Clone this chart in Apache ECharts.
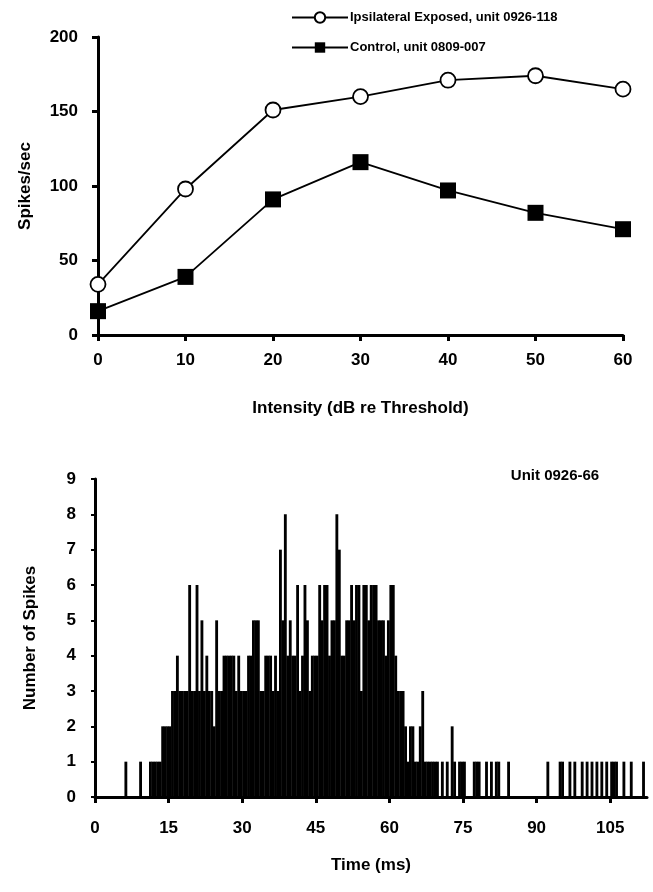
<!DOCTYPE html>
<html>
<head>
<meta charset="utf-8">
<title>Spikes</title>
<script src="https://cdn.jsdelivr.net/npm/echarts@6/dist/echarts.min.js"></script>
<style>
  html, body { margin: 0; padding: 0; background: #fff; }
  #chart { width: 653px; height: 892px; }
</style>
</head>
<body>
<div id="chart"></div>
<script>
// top panel: rate vs intensity
const intensity = [0, 10, 20, 30, 40, 50, 60];
const ipsilateral = [34, 98, 151, 160, 171, 174, 165];
const control = [16, 39, 91, 116, 97, 82, 71];
const intensityTicks = [0, 10, 20, 30, 40, 50, 60];

// bottom panel: PSTH, 0.5 ms bins starting at 0 ms
const binWidth = 0.5;
const spikeCounts = [
  0,0,0,0,0,0,0,0,0,0,
  0,0,1,0,0,0,0,0,1,0,
  0,0,1,1,1,1,1,2,2,2,
  2,3,3,4,3,3,3,3,6,3,
  3,6,3,5,3,4,3,3,2,5,
  3,3,4,4,4,4,4,3,4,3,
  3,3,4,4,5,5,5,3,3,4,
  4,4,3,4,3,7,5,8,4,5,
  4,4,6,3,4,6,5,3,4,4,
  4,6,5,6,6,4,5,5,8,7,
  4,4,5,5,6,5,6,6,3,6,
  6,5,6,6,6,5,5,5,4,5,
  6,6,4,3,3,3,2,1,2,2,
  1,1,2,3,1,1,1,1,1,1,
  0,1,0,1,0,2,1,0,1,1,
  1,0,0,0,1,1,1,0,0,1,
  0,1,0,1,1,0,0,0,1,0,
  0,0,0,0,0,0,0,0,0,0,
  0,0,0,0,1,0,0,0,0,1,
  1,0,0,1,0,1,0,0,1,0,
  1,0,1,0,1,0,1,0,1,0,
  1,1,1,0,0,1,0,0,1,0,
  0,0,0,1,0
];
const timeTicks = [0, 15, 30, 45, 60, 75, 90, 105];

const FONT = 'Liberation Sans';

// [bin start, count]
let psthData = spikeCounts.map((c, i) => [i * binWidth, c]);

function renderBin(params, api) {
  let start = api.value(0);
  let count = api.value(1);
  if (!count) return null;
  let topLeft = api.coord([start, count]);
  let bottomRight = api.coord([start + binWidth, 0]);
  return {
    type: 'rect',
    shape: {
      x: topLeft[0],
      y: topLeft[1],
      width: bottomRight[0] - topLeft[0] + 0.4,
      height: bottomRight[1] - topLeft[1]
    },
    style: { fill: '#000' }
  };
}

function labelStyle(margin, extra) {
  return Object.assign({ color: '#000', fontFamily: FONT, fontWeight: 'bold', fontSize: 17, margin: margin }, extra);
}

function axisStyle(extra) {
  return Object.assign({
    axisLine: { show: true, onZero: false, lineStyle: { color: '#000', width: 3 } },
    axisTick: { show: true, length: 6, lineStyle: { color: '#000', width: 3 } },
    splitLine: { show: false },
    nameLocation: 'middle',
    nameTextStyle: { color: '#000', fontFamily: FONT, fontWeight: 'bold', fontSize: 17 }
  }, extra);
}

let chart = echarts.init(document.getElementById('chart'), null, { renderer: 'canvas' });

let option = {
  backgroundColor: '#fff',
  animation: false,
  legend: {
    orient: 'vertical',
    left: 286,
    top: 6,
    itemWidth: 56,
    itemHeight: 13,
    itemGap: 17,
    data: ['Ipsilateral Exposed, unit 0926-118', 'Control, unit 0809-007'],
    textStyle: { color: '#000', fontFamily: FONT, fontWeight: 'bold', fontSize: 13, padding: [0, 0, 0, -3] }
  },
  graphic: [{
    type: 'text',
    x: 555,
    y: 476,
    style: {
      text: 'Unit 0926-66',
      fill: '#000',
      font: 'bold 15px "Liberation Sans"',
      textAlign: 'center',
      textVerticalAlign: 'middle'
    }
  }],
  grid: [
    { left: 98, right: 30, top: 37, bottom: 557 },
    { left: 95, right: 6, top: 479, bottom: 95 }
  ],
  xAxis: [
    axisStyle({
      gridIndex: 0, type: 'value',
      min: intensityTicks[0], max: intensityTicks[intensityTicks.length - 1], interval: 10,
      name: 'Intensity (dB re Threshold)', nameGap: 65,
      axisLabel: labelStyle(17)
    }),
    axisStyle({
      gridIndex: 1, type: 'value',
      min: 0, max: 112.5, interval: 15,
      name: 'Time (ms)', nameGap: 60,
      axisLabel: labelStyle(23, { showMaxLabel: false,
        formatter: v => (timeTicks.indexOf(v) >= 0 ? String(v) : '') })
    })
  ],
  yAxis: [
    axisStyle({
      gridIndex: 0, type: 'value', min: 0, max: 200, interval: 50,
      name: 'Spikes/sec', nameGap: 64,
      axisLabel: labelStyle(20)
    }),
    axisStyle({
      gridIndex: 1, type: 'value', min: 0, max: 9, interval: 1,
      name: 'Number of Spikes', nameGap: 56,
      axisTick: { show: true, length: 4, lineStyle: { color: '#000', width: 2 } },
      axisLabel: labelStyle(19)
    })
  ],
  series: [
    {
      name: 'Ipsilateral Exposed, unit 0926-118',
      type: 'line',
      xAxisIndex: 0, yAxisIndex: 0,
      data: intensity.map((x, i) => [x, ipsilateral[i]]),
      symbol: 'circle',
      symbolSize: 15,
      lineStyle: { color: '#000', width: 1.8 },
      itemStyle: { color: '#fff', borderColor: '#000', borderWidth: 1.8 },
      z: 3
    },
    {
      name: 'Control, unit 0809-007',
      type: 'line',
      xAxisIndex: 0, yAxisIndex: 0,
      data: intensity.map((x, i) => [x, control[i]]),
      symbol: 'rect',
      symbolSize: 16,
      lineStyle: { color: '#000', width: 1.8 },
      itemStyle: { color: '#000' },
      z: 3
    },
    {
      name: 'PSTH',
      type: 'custom',
      xAxisIndex: 1, yAxisIndex: 1,
      data: psthData,
      renderItem: renderBin,
      z: 1
    }
  ]
};

chart.setOption(option);
</script>
</body>
</html>
